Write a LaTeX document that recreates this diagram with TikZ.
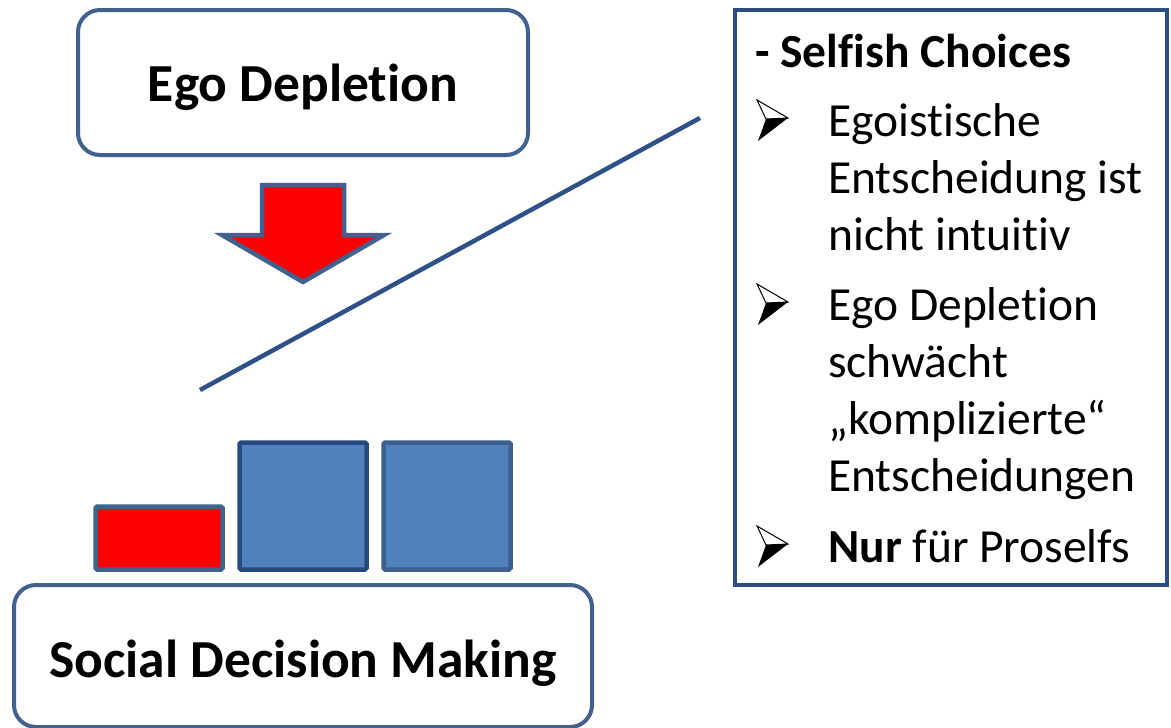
\documentclass[tikz,border=0pt]{standalone}
\usepackage{fontspec}
\setmainfont{Carlito}[Ligatures=NoCommon]
\definecolor{boxblue}{HTML}{41628F}
\definecolor{panelblue}{HTML}{2C4D82}
\definecolor{lineblue}{HTML}{2E5189}
\definecolor{barfill}{HTML}{4F81BD}
\definecolor{bardark}{HTML}{254A7E}
\definecolor{barmid}{HTML}{3C5F8E}
\begin{document}
\begin{tikzpicture}[x=1pt,y=-1pt,
  frame/.style={draw=boxblue, line width=4pt, rounded corners=22pt, fill=white,
    outer sep=0pt, inner sep=0pt, anchor=north west},
  bigtext/.style={anchor=base, inner sep=0pt, font=\fontsize{53.5}{64}\selectfont\bfseries},
  bar/.style={line width=4.5pt, rounded corners=1.5pt, outer sep=0pt, inner sep=0pt,
    anchor=north west},
  itemtext/.style={anchor=base west, inner sep=0pt, font=\fontsize{47.5}{57}\selectfont},
  bul/.pic={
    \filldraw[fill=white, draw=black, line width=1pt, line join=miter]
      (-1,-36) -- (30,-18) -- (8,-17) -- cycle;
    \fill[black] (8,-17) -- (30,-18) -- (0,5) -- cycle;
  }]
\useasboundingbox (0,0) rectangle (1171,728);

% upper box: the cause
\node[frame, minimum width=450pt, minimum height=145pt] (ego) at (78,10) {};
\node[bigtext] (egolabel) at (303,101) {Ego Depletion};

% red block arrow pointing down
\filldraw[fill=red, draw=boxblue, line width=4.5pt, line join=miter]
  (262,185) -- (344,185) -- (344,235) -- (384,235) -- (303,282)
  -- (222,235) -- (262,235) -- cycle;

% diagonal rule towards the panel
\coordinate (ruleA) at (200,390);
\coordinate (ruleB) at (700,118);
\draw[lineblue, line width=4.5pt] (ruleA) -- (ruleB);

% bars
\node[bar, draw=boxblue, fill=red, minimum width=127pt, minimum height=63pt] (barred) at (95.5,506.5) {};
\node[bar, draw=bardark, fill=barfill, minimum width=127pt, minimum height=127pt] (barone) at (239.5,442.5) {};
\node[bar, draw=barmid, fill=barfill, minimum width=127pt, minimum height=127pt] (bartwo) at (383.5,442.5) {};

% lower box: the outcome
\node[frame, minimum width=578pt, minimum height=142pt] (sdm) at (14,585) {};
\node[bigtext] (sdmlabel) at (303,677) {Social Decision Making};

% text panel
\node[draw=panelblue, line width=4pt, outer sep=0pt, inner sep=0pt, anchor=north west,
  minimum width=432pt, minimum height=575pt] (panel) at (735,10) {};
\node[itemtext, font=\fontsize{47.5}{57}\selectfont\bfseries] (title) at (755,67) {- Selfish Choices};

\pic at (758,136) {bul};
\node[itemtext] (a1) at (828,136) {Egoistische};
\node[itemtext] (a2) at (828,193) {Entscheidung ist};
\node[itemtext] (a3) at (828,250) {nicht intuitiv};

\pic at (758,320) {bul};
\node[itemtext] (b1) at (828,320) {Ego Depletion};
\node[itemtext] (b2) at (828,377) {schwächt};
\node[itemtext] (b3) at (828,434) {„komplizierte“};
\node[itemtext] (b4) at (828,491) {Entscheidungen};

\pic at (758,562) {bul};
\node[itemtext] (c1) at (828,562) {\textbf{Nur} für Proselfs};
\end{tikzpicture}
\end{document}
